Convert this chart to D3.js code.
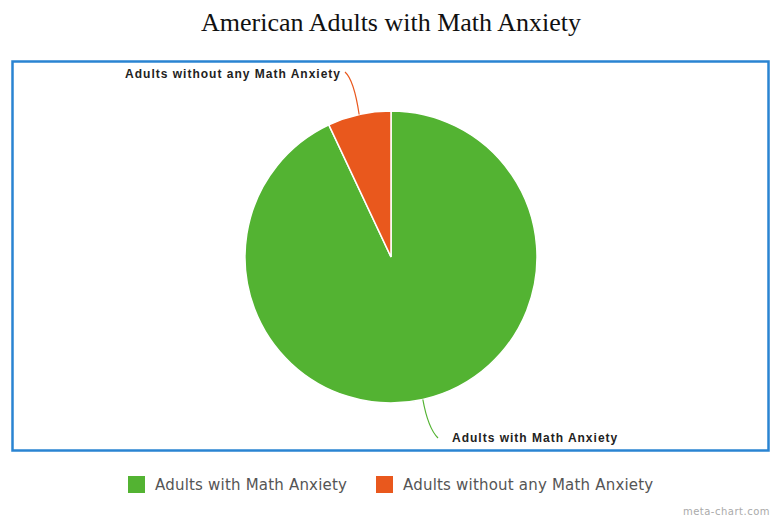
<!DOCTYPE html>
<html>
<head>
<meta charset="utf-8">
<script src="https://cdn.jsdelivr.net/npm/d3@7"></script>
<style>
  html, body { margin: 0; padding: 0; background: #fff; }
  svg { display: block; }
</style>
</head>
<body>
<svg id="chart" width="773" height="518"></svg>
<script>
// ---- data ----
const categories = ["Adults with Math Anxiety", "Adults without any Math Anxiety"];
const values = [93, 7];
const colors = ["#53b332", "#e9581d"];

const svg = d3.select("#chart");

// title
svg.append("text")
  .attr("x", 391).attr("y", 31)
  .attr("text-anchor", "middle")
  .attr("font-family", "Liberation Serif, Times New Roman, serif")
  .attr("font-size", 26)
  .attr("fill", "#111")
  .text("American Adults with Math Anxiety");

// frame
svg.append("rect")
  .attr("x", 12.5).attr("y", 61.5)
  .attr("width", 756).attr("height", 389)
  .attr("fill", "none")
  .attr("stroke", "#2a84d2")
  .attr("stroke-width", 2.5);

// pie (clockwise from 12 o'clock)
const cx = 391, cy = 257, r = 146;
const pie = d3.pie().sort(null).value(d => d);
const arcs = pie(values);
const arc = d3.arc().innerRadius(0).outerRadius(r);

const g = svg.append("g").attr("transform", `translate(${cx},${cy})`);
g.selectAll("path")
  .data(arcs)
  .enter()
  .append("path")
  .attr("d", arc)
  .attr("fill", (d, i) => colors[i])
  .attr("stroke", "#fff")
  .attr("stroke-width", 1.5);

// leader lines + labels
const labelPos = [
  { ctrl: [428, 428], end: [438, 438], tx: 452, ty: 442, anchor: "start" },
  { ctrl: [354, 80], end: [345, 72], tx: 341, ty: 78, anchor: "end" }
];

arcs.forEach((d, i) => {
  const mid = (d.startAngle + d.endAngle) / 2;
  const sx = cx + Math.sin(mid) * r;
  const sy = cy - Math.cos(mid) * r;
  const lp = labelPos[i];
  const p = d3.path();
  p.moveTo(sx, sy);
  p.quadraticCurveTo(lp.ctrl[0], lp.ctrl[1], lp.end[0], lp.end[1]);
  svg.append("path")
    .attr("d", p.toString())
    .attr("fill", "none")
    .attr("stroke", colors[i])
    .attr("stroke-width", 1.2);
  svg.append("text")
    .attr("x", lp.tx).attr("y", lp.ty)
    .attr("text-anchor", lp.anchor)
    .attr("font-family", "Liberation Sans, Arial, sans-serif")
    .attr("font-weight", "bold")
    .attr("font-size", 12)
    .attr("letter-spacing", 1)
    .attr("fill", "#222")
    .text(categories[i]);
});

// legend
const legendX = [128, 376];
const legend = svg.append("g");
categories.forEach((c, i) => {
  legend.append("rect")
    .attr("x", legendX[i]).attr("y", 476)
    .attr("width", 17).attr("height", 17)
    .attr("fill", colors[i]);
  legend.append("text")
    .attr("x", legendX[i] + 27).attr("y", 490)
    .attr("font-family", "DejaVu Sans, Verdana, sans-serif")
    .attr("font-size", 15)
    .attr("letter-spacing", 0.2)
    .attr("fill", "#555")
    .text(c);
});

// credit
svg.append("text")
  .attr("x", 770).attr("y", 515)
  .attr("text-anchor", "end")
  .attr("font-family", "DejaVu Sans, sans-serif")
  .attr("font-size", 10)
  .attr("letter-spacing", 0.5)
  .attr("fill", "#aaa")
  .text("meta-chart.com");
</script>
</body>
</html>
